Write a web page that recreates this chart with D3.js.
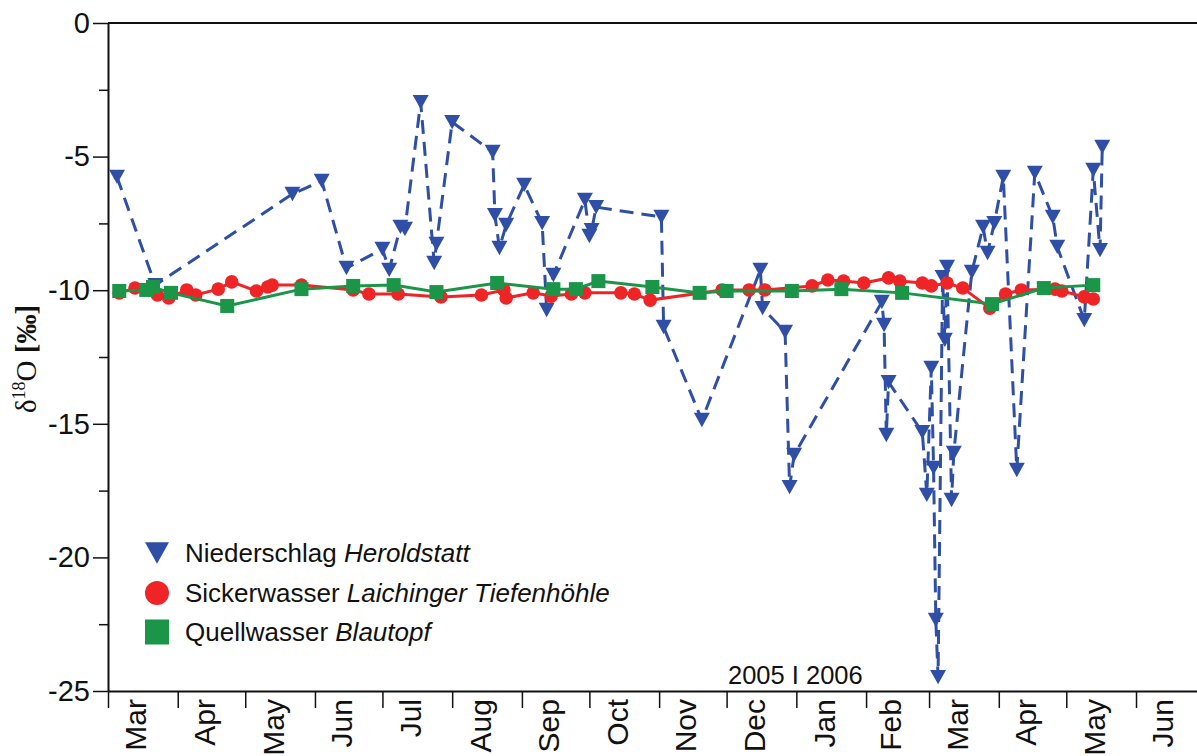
<!DOCTYPE html>
<html><head><meta charset="utf-8">
<script src="https://cdn.jsdelivr.net/npm/d3@7"></script>
<style>html,body{margin:0;padding:0;background:#fff;overflow:hidden}</style>
</head><body><svg id="c" width="1197" height="756"></svg>
<script>
// ---- data ----
const precipDates = ["2005-03-05","2005-03-22","2005-05-22","2005-06-04","2005-06-15","2005-07-01","2005-07-04","2005-07-09","2005-07-11","2005-07-18","2005-07-24","2005-07-25","2005-08-01","2005-08-19","2005-08-20","2005-08-22","2005-08-25","2005-09-02","2005-09-10","2005-09-12","2005-09-15","2005-09-29","2005-10-01","2005-10-02","2005-10-04","2005-11-02","2005-11-03","2005-11-20","2005-12-16","2005-12-17","2005-12-27","2005-12-29","2005-12-31","2006-02-08","2006-02-09","2006-02-10","2006-02-11","2006-02-26","2006-02-28","2006-03-02","2006-03-03","2006-03-04","2006-03-05","2006-03-07","2006-03-08","2006-03-09","2006-03-11","2006-03-12","2006-03-20","2006-03-25","2006-03-27","2006-03-30","2006-04-03","2006-04-09","2006-04-17","2006-04-25","2006-04-27","2006-05-09","2006-05-13","2006-05-16","2006-05-17"];
const precipValues = [-5.76,-9.81,-6.40,-5.91,-9.17,-8.46,-9.24,-7.63,-7.71,-2.96,-8.98,-8.27,-3.71,-4.83,-7.19,-8.42,-7.56,-6.06,-7.49,-10.74,-9.43,-6.62,-7.97,-7.75,-6.89,-7.26,-11.38,-14.86,-9.24,-10.67,-11.56,-17.37,-16.17,-10.44,-11.30,-15.42,-13.44,-15.31,-17.66,-12.91,-16.65,-22.34,-24.48,-9.51,-11.86,-9.13,-17.85,-16.09,-9.32,-7.63,-8.61,-7.49,-5.76,-16.73,-5.61,-7.26,-8.38,-11.12,-5.50,-8.50,-4.64];

const seepDates = ["2005-03-06","2005-03-13","2005-03-23","2005-03-28","2005-04-05","2005-04-09","2005-04-19","2005-04-25","2005-05-06","2005-05-11","2005-05-13","2005-05-26","2005-06-18","2005-06-25","2005-07-08","2005-07-27","2005-08-14","2005-08-24","2005-08-25","2005-09-06","2005-09-14","2005-09-23","2005-09-29","2005-10-15","2005-10-21","2005-10-28","2005-11-29","2005-12-11","2005-12-18","2006-01-08","2006-01-15","2006-01-22","2006-01-31","2006-02-11","2006-02-16","2006-02-26","2006-03-02","2006-03-09","2006-03-16","2006-03-28","2006-04-04","2006-04-11","2006-04-26","2006-04-29","2006-05-09","2006-05-13"];
const seepValues = [-10.10,-9.92,-10.18,-10.29,-9.99,-10.18,-9.96,-9.69,-10.03,-9.88,-9.81,-9.81,-9.99,-10.14,-10.14,-10.25,-10.18,-9.99,-10.29,-10.10,-10.22,-10.14,-10.10,-10.10,-10.14,-10.37,-9.99,-9.99,-9.99,-9.84,-9.62,-9.66,-9.73,-9.54,-9.66,-9.73,-9.84,-9.73,-9.92,-10.67,-10.14,-9.99,-9.96,-10.03,-10.25,-10.33];

const springDates = ["2005-03-06","2005-03-18","2005-03-21","2005-03-29","2005-04-23","2005-05-26","2005-06-18","2005-07-06","2005-07-25","2005-08-21","2005-09-15","2005-09-25","2005-10-05","2005-10-29","2005-11-19","2005-12-01","2005-12-30","2006-01-21","2006-02-17","2006-03-29","2006-04-21","2006-05-13"];
const springValues = [-10.03,-9.99,-9.88,-10.10,-10.59,-9.96,-9.84,-9.81,-10.07,-9.73,-9.96,-9.96,-9.66,-9.88,-10.10,-10.03,-10.03,-9.96,-10.10,-10.52,-9.92,-9.81];

const monthLabels = ["Mar","Apr","May","Jun","Jul","Aug","Sep","Oct","Nov","Dec","Jan","Feb","Mar","Apr","May","Jun"];
const yTicks = [0,-5,-10,-15,-20,-25];
const legendNames = ["Niederschlag ","Sickerwasser ","Quellwasser "];
const legendSites = ["Heroldstatt","Laichinger Tiefenhöhle","Blautopf"];
const yearLabel = "2005 I 2006";

// ---- chart ----
const parse = d3.utcParse("%Y-%m-%d");
const svg = d3.select("#c");
svg.append("rect").attr("width",1197).attr("height",756).attr("fill","#fff");

const x = d3.scaleUtc().domain([parse("2005-03-01"), parse("2006-07-01")]).range([108, 1203.5]);
const y = d3.scaleLinear().domain([-25, 0]).range([691, 23]);

const BLUE = "#2f4fa6", RED = "#ee2427", GREEN = "#1b9548";
const FONT = "'Liberation Sans', Arial, sans-serif";

const mk = (ds, vs) => ds.map((d,i)=>({d:parse(d), v:vs[i]}));
const precip = mk(precipDates, precipValues);
const seep = mk(seepDates, seepValues);
const spring = mk(springDates, springValues);

// frame: top line
svg.append("line").attr("x1",108).attr("x2",1197).attr("y1",y(0)).attr("y2",y(0))
  .attr("stroke","#111").attr("stroke-width",2);

// Y axis
const yAxis = d3.axisLeft(y).tickValues(yTicks).tickFormat(d=>d===0?"0":String(d)).tickSize(15).tickSizeOuter(0).tickPadding(3);
const gy = svg.append("g").attr("transform","translate(108,0)").call(yAxis);
gy.select(".domain").attr("stroke","#111").attr("stroke-width",2);
gy.selectAll(".tick line").attr("stroke","#111").attr("stroke-width",1.5);
gy.selectAll("text").attr("font-family",FONT).attr("font-size",29).attr("fill","#111");
// minor ticks
const yMinor = d3.axisLeft(y).tickValues([-2.5,-7.5,-12.5,-17.5,-22.5]).tickSize(9).tickFormat("").tickSizeOuter(0);
const gym = svg.append("g").attr("transform","translate(108,0)").call(yMinor);
gym.select(".domain").remove();
gym.selectAll(".tick line").attr("stroke","#111").attr("stroke-width",1.5);

// X axis
const monthStarts = d3.utcMonth.range(parse("2005-03-01"), parse("2006-07-01"));
const xAxis = d3.axisBottom(x).tickValues(monthStarts).tickFormat("").tickSize(17).tickSizeOuter(0);
const gx = svg.append("g").attr("transform","translate(0,691)").call(xAxis);
gx.select(".domain").attr("stroke","#111").attr("stroke-width",2);
gx.selectAll(".tick line").attr("stroke","#111").attr("stroke-width",1.5);

// month labels (mid-month)
monthStarts.forEach((m,i)=>{
  const next = d3.utcMonth.offset(m,1);
  const mid = (x(m)+x(next))/2;
  svg.append("text").attr("transform",`translate(${mid},699) rotate(-90)`)
    .attr("dy","0.12em").attr("text-anchor","end")
    .attr("font-family",FONT).attr("font-size",30).attr("fill","#111")
    .text(monthLabels[i]);
});

// year label
svg.append("text").attr("x",728).attr("y",684).attr("font-family",FONT).attr("font-size",25.5).attr("fill","#111").text(yearLabel);

// Y label
const yl = svg.append("text").attr("transform","translate(36,359) rotate(-90)")
  .attr("text-anchor","middle").attr("font-family","'Liberation Serif','Times New Roman',serif")
  .attr("font-size",29).attr("fill","#111");
yl.append("tspan").text("δ");
yl.append("tspan").attr("font-size",18).attr("dy","-0.6em").text("18");
yl.append("tspan").attr("dy","0.38em").text("O ");
yl.append("tspan").attr("font-weight","bold").text("[‰]");

// precip line (dashed)
const line = d3.line().x(d=>x(d.d)).y(d=>y(d.v));
svg.append("path").datum(precip).attr("d",line).attr("fill","none")
  .attr("stroke",BLUE).attr("stroke-width",3).attr("stroke-dasharray","14,8");
const tri = (s)=>`M${-s/2},${-s*0.45}L${s/2},${-s*0.45}L0,${s*0.45}Z`;
svg.append("g").selectAll("path").data(precip).join("path")
  .attr("transform",d=>`translate(${x(d.d)},${y(d.v)})`).attr("d",tri(16)).attr("fill",BLUE);

// seepage
svg.append("path").datum(seep).attr("d",line).attr("fill","none").attr("stroke",RED).attr("stroke-width",3);
svg.append("g").selectAll("circle").data(seep).join("circle")
  .attr("cx",d=>x(d.d)).attr("cy",d=>y(d.v)).attr("r",6.8).attr("fill",RED);

// spring
svg.append("path").datum(spring).attr("d",line).attr("fill","none").attr("stroke",GREEN).attr("stroke-width",3);
svg.append("g").selectAll("rect").data(spring).join("rect")
  .attr("x",d=>x(d.d)-7).attr("y",d=>y(d.v)-7).attr("width",14).attr("height",14).attr("fill",GREEN);

// legend
const lg = svg.append("g");
const rows = [553, 593, 632];
lg.append("path").attr("transform",`translate(157,${rows[0]})`).attr("d",tri(24)).attr("fill",BLUE);
lg.append("circle").attr("cx",157).attr("cy",rows[1]).attr("r",12).attr("fill",RED);
lg.append("rect").attr("x",145).attr("y",rows[2]-12.5).attr("width",24).attr("height",25).attr("fill",GREEN);
legendNames.forEach((n,i)=>{
  const t = lg.append("text").attr("x",185).attr("y",rows[i]+9).attr("font-family",FONT).attr("font-size",26).attr("fill","#111");
  t.append("tspan").text(n);
  t.append("tspan").attr("font-style","italic").text(legendSites[i]);
});
</script></body></html>
